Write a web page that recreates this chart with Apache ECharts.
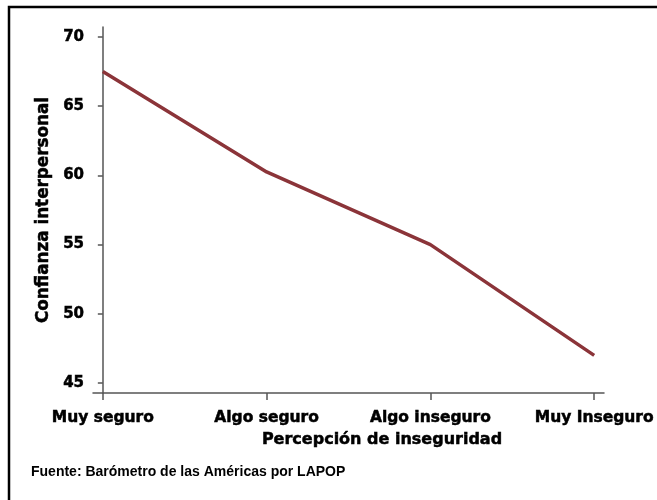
<!DOCTYPE html>
<html>
<head>
<meta charset="utf-8">
<script src="https://cdn.jsdelivr.net/npm/echarts@6/dist/echarts.min.js"></script>
<style>
    html, body { margin: 0; padding: 0; background: #fff; }
    #chart { width: 657px; height: 500px; }
</style>
</head>
<body>
<div id="chart"></div>
<script>
// categorias del eje x
const categorias = ["Muy seguro", "Algo seguro", "Algo inseguro", "Muy Inseguro"];
// confianza interpersonal media
const confianza = [67.5, 60.25, 55.0, 47.0];
const yTicks = [45, 50, 55, 60, 65, 70];
const xTicks = [0, 1, 2, 3];

const fuenteAncha = "'DejaVu Sans', Verdana, sans-serif";
const fuente = "Arial, 'Liberation Sans', sans-serif";

let puntos = [];
for (let i = 0; i < categorias.length; i++) {
    puntos.push([i, confianza[i]]);
}

// texto negrita un poco mas grueso
const grueso = { textBorderColor: "#000", textBorderWidth: 0.5 };

const chart = echarts.init(document.getElementById("chart"));
chart.setOption({
    animation: false,
    backgroundColor: "#fff",
    grid: { left: 93, right: 53, top: 27, bottom: 107 },
    xAxis: {
        type: "value",
        min: -0.06,
        max: 3.06,
        name: "Percepción de inseguridad",
        nameLocation: "middle",
        nameGap: 37,
        nameTextStyle: Object.assign({
            color: "#000", fontWeight: "bold", fontSize: 16, fontFamily: fuenteAncha,
            padding: [0, 0, 0, 67]
        }, grueso),
        axisLine: { lineStyle: { color: "#555", width: 1.5 } },
        axisTick: { customValues: xTicks, length: 7, lineStyle: { color: "#555", width: 1.5 } },
        axisLabel: Object.assign({
            customValues: xTicks,
            margin: 17,
            color: "#000",
            fontWeight: "bold",
            fontSize: 15.5,
            fontFamily: fuenteAncha,
            formatter: function (v) { return categorias[Math.round(v)]; }
        }, grueso),
        splitLine: { show: false }
    },
    yAxis: {
        type: "value",
        min: 44.28,
        max: 70.72,
        name: "Confianza interpersonal",
        nameLocation: "middle",
        nameGap: 40,
        nameTextStyle: Object.assign({
            color: "#000", fontWeight: "bold", fontSize: 16.8, fontFamily: fuenteAncha
        }, grueso),
        axisLine: { show: true, lineStyle: { color: "#555", width: 1.5 } },
        axisTick: { show: true, customValues: yTicks, length: 5, lineStyle: { color: "#555", width: 1.5 } },
        axisLabel: Object.assign({
            customValues: yTicks,
            margin: 9,
            color: "#000",
            fontWeight: "bold",
            fontSize: 15,
            fontFamily: fuenteAncha
        }, grueso),
        splitLine: { show: false }
    },
    series: [{
        type: "line",
        data: puntos,
        showSymbol: false,
        lineStyle: { color: "#8b3439", width: 3.5 }
    }],
    graphic: [
        {
            type: "rect",
            shape: { x: 9, y: 7, width: 700, height: 600 },
            style: { fill: null, stroke: "#000", lineWidth: 2.5 },
            silent: true
        },
        {
            type: "text",
            left: 31,
            top: 465,
            style: {
                text: "Fuente: Barómetro de las Américas por LAPOP",
                fill: "#000",
                font: "bold 14px " + fuente
            }
        }
    ]
});
</script>
</body>
</html>
